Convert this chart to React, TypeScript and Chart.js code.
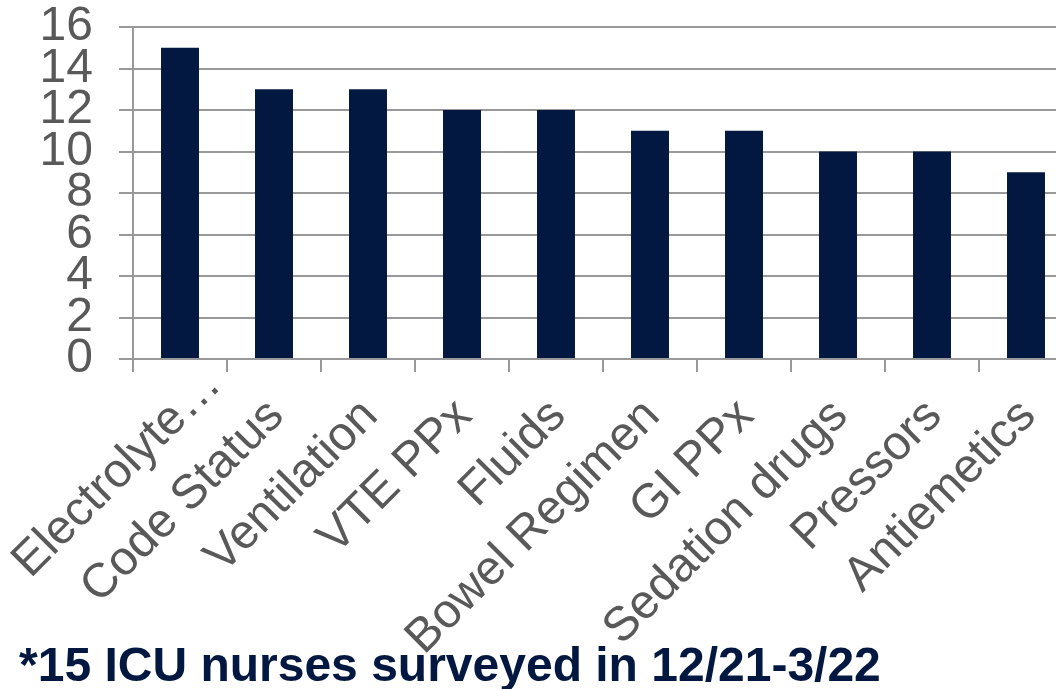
import React, { useEffect, useRef } from "react";
import { Chart, registerables } from "chart.js";

Chart.register(...registerables);

const categories = [
  "Electrolyte…",
  "Code Status",
  "Ventilation",
  "VTE PPx",
  "Fluids",
  "Bowel Regimen",
  "GI PPx",
  "Sedation drugs",
  "Pressors",
  "Antiemetics",
];
const counts = [15, 13, 13, 12, 12, 11, 11, 10, 10, 9];
const yTicks = [0, 2, 4, 6, 8, 10, 12, 14, 16];
const footnote = "*15 ICU nurses surveyed in 12/21-3/22";

const NAVY = "#031840";
const GRAY_TEXT = "#595959";
const GRID = "#999999";
const FONT = "'Liberation Sans', Arial, sans-serif";
const LABEL_SIZE = 48;
const X_TICK_LEN = 13;
const X_LABEL_PAD = 16;
const X_LABEL_DX = -18;
// truncated labels (ending with an ellipsis) sit further along their baseline
const TRUNCATED_SHIFT = 44;

function zeroPad(s: any) {
  s.paddingLeft = 0;
  s.paddingRight = 0;
  s.paddingTop = 0;
  s.paddingBottom = 0;
}

const rotatedLabels = {
  id: "rotatedLabels",
  afterDraw(chart: any) {
    const scale = chart.scales.x;
    const ctx = chart.ctx;
    const lineHeight = LABEL_SIZE * 1.2;
    ctx.save();
    ctx.font = `${LABEL_SIZE}px ${FONT}`;
    ctx.fillStyle = GRAY_TEXT;
    ctx.textAlign = "right";
    ctx.textBaseline = "middle";
    const labels: string[] = chart.data.labels;
    labels.forEach((label, i) => {
      const x = scale.getPixelForTick(i) + X_LABEL_DX;
      const y = scale.top + X_TICK_LEN + X_LABEL_PAD;
      ctx.save();
      ctx.translate(x, y);
      ctx.rotate(-Math.PI / 4);
      const shift = label.endsWith("…") ? TRUNCATED_SHIFT : 0;
      ctx.fillText(label, shift, lineHeight / 2);
      ctx.restore();
    });
    ctx.restore();
  },
};

export default function App() {
  const ref = useRef<HTMLCanvasElement | null>(null);

  useEffect(() => {
    if (!ref.current) return;
    const chart = new Chart(ref.current, {
      type: "bar",
      data: {
        labels: categories,
        datasets: [
          {
            data: counts,
            backgroundColor: NAVY,
            borderWidth: 0,
            categoryPercentage: 1,
            barPercentage: 0.404,
          },
        ],
      },
      plugins: [rotatedLabels],
      options: {
        responsive: false,
        animation: false,
        devicePixelRatio: 1,
        layout: { padding: { top: 27, right: 0, bottom: 0, left: 0 } },
        plugins: { legend: { display: false }, tooltip: { enabled: false }, title: { display: false } },
        scales: {
          x: {
            afterFit: (s: any) => {
              s.height = 330;
              zeroPad(s);
            },
            grid: {
              offset: true,
              drawOnChartArea: false,
              drawTicks: true,
              tickLength: X_TICK_LEN,
              color: GRID,
              lineWidth: 2,
            },
            border: { display: true, color: GRID, width: 2 },
            ticks: {
              display: false,
              autoSkip: false,
            },
          },
          y: {
            min: 0,
            max: 16,
            afterFit: (s: any) => {
              s.width = 133;
              zeroPad(s);
            },
            afterBuildTicks: (s: any) => {
              s.ticks = yTicks.map((v) => ({ value: v }));
            },
            grid: {
              color: GRID,
              lineWidth: 2,
              drawTicks: true,
              tickLength: 14,
            },
            border: { display: true, color: GRID, width: 2 },
            ticks: {
              autoSkip: false,
              stepSize: 2,
              padding: 26,
              color: GRAY_TEXT,
              font: { family: FONT, size: LABEL_SIZE },
            },
          },
        },
      },
    });
    return () => chart.destroy();
  }, []);

  return (
    <div
      style={{
        position: "absolute",
        left: 0,
        top: 0,
        width: 1056,
        height: 689,
        overflow: "hidden",
        background: "#ffffff",
      }}
    >
      <canvas ref={ref} width={1073} height={689} style={{ display: "block" }} />
      <div
        style={{
          position: "absolute",
          left: 19,
          top: 641,
          fontFamily: FONT,
          fontWeight: "bold",
          fontSize: 48,
          lineHeight: "48px",
          color: NAVY,
          whiteSpace: "nowrap",
        }}
      >
        {footnote}
      </div>
    </div>
  );
}
